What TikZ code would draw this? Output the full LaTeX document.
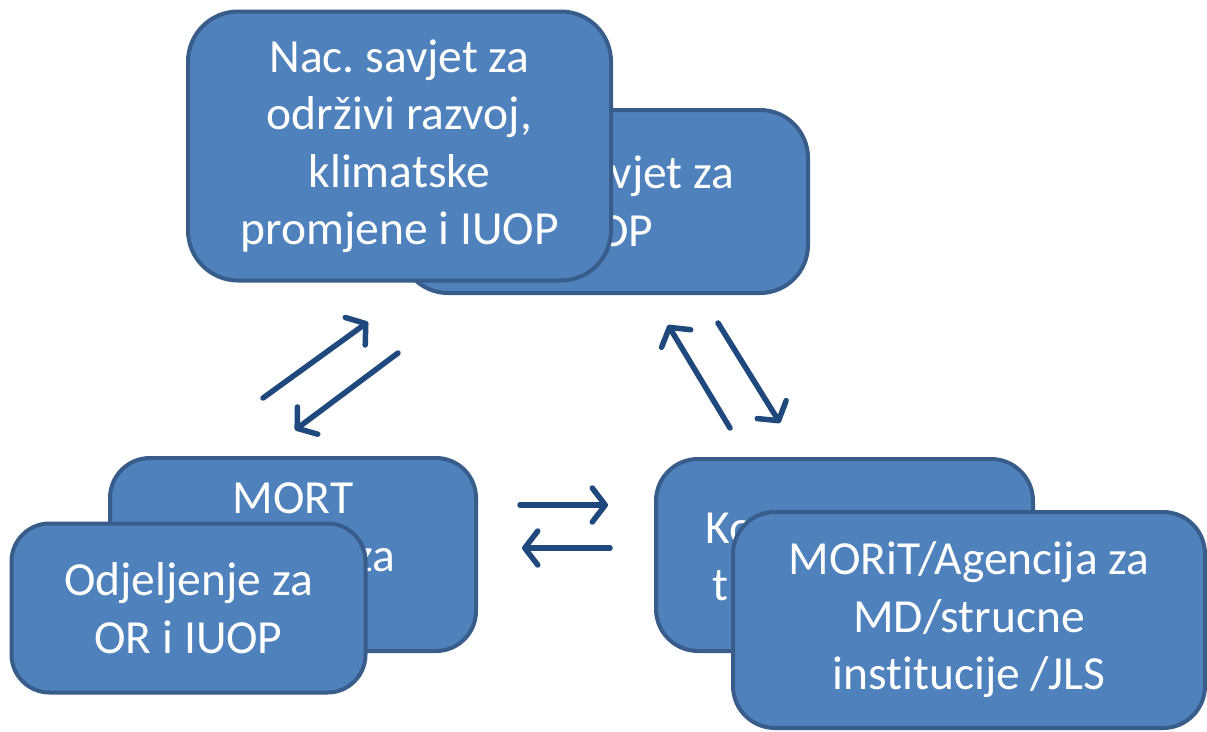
\documentclass[tikz,border=0pt]{standalone}
\usepackage{fontspec}
\setmainfont{Carlito}[Ligatures=NoCommon]
\frenchspacing
\usetikzlibrary{arrows.meta}
\definecolor{boxfill}{HTML}{4F81BD}
\definecolor{boxline}{HTML}{385D8A}
\definecolor{arrowcol}{HTML}{1F497D}
\begin{document}
\begin{tikzpicture}[x=1pt,y=-1pt,
  box/.style={draw=boxline, line width=4pt, fill=boxfill, rounded corners=#1,
    text=white, align=center, inner sep=0pt,
    font=\fontsize{47.5pt}{57.5pt}\selectfont},
  box/.default=40pt,
  lbl/.style={text=white, inner sep=0pt, font=\fontsize{47.5pt}{57.5pt}\selectfont},
  flow/.style={draw=arrowcol, line width=5.5pt, line cap=round,
    -{Straight Barb[length=13pt,width=34pt,line cap=round,line join=round]}}]
\useasboundingbox (0,0) rectangle (1207,731);

% top pair
\node[box=48pt, minimum width=408pt, minimum height=183pt] (savjetB) at (604,201.5) {Nac. savjet za\\IUOP};
\node[box=50pt, minimum width=423pt, minimum height=269pt] (savjetF) at (399.5,146) {Nac. savjet za\\odr\v{z}ivi razvoj,\\klimatske\\promjene i IUOP};

% bottom-left pair
\node[box=40pt, minimum width=366pt, minimum height=193pt] (mortB) at (293,554.5) {};
\node[lbl, anchor=base] (mortT) at (293,513) {MORT};
\node[lbl, anchor=base east] (mortZ) at (395,571) {za};
\node[box=38pt, minimum width=354pt, minimum height=169pt] (odjF) at (188.5,608) {Odjeljenje za\\OR i IUOP};

% bottom-right pair
\node[box=42pt, minimum width=377pt, minimum height=192pt] (koB) at (844.5,555) {};
\node[lbl, anchor=base west] (koT) at (705,543) {Ko};
\node[lbl, anchor=base west] (koT2) at (712,600) {t};
\node[box=42pt, minimum width=472pt, minimum height=216pt] (moritF) at (969,620) {MORiT/Agencija za\\MD/strucne\\institucije /JLS};

% arrows
\coordinate (a1s) at (263,398); \coordinate (a1e) at (368,322);
\coordinate (a2s) at (398,353); \coordinate (a2e) at (295,430);
\coordinate (a3s) at (730,428); \coordinate (a3e) at (668,325);
\coordinate (a4s) at (718,323); \coordinate (a4e) at (780,423);
\coordinate (a5s) at (520,505); \coordinate (a5e) at (608,505);
\coordinate (a6s) at (610,548); \coordinate (a6e) at (522,548);
\draw[flow] (a1s) -- (a1e);
\draw[flow] (a2s) -- (a2e);
\draw[flow] (a3s) -- (a3e);
\draw[flow] (a4s) -- (a4e);
\draw[flow] (a5s) -- (a5e);
\draw[flow] (a6s) -- (a6e);
\end{tikzpicture}
\end{document}
